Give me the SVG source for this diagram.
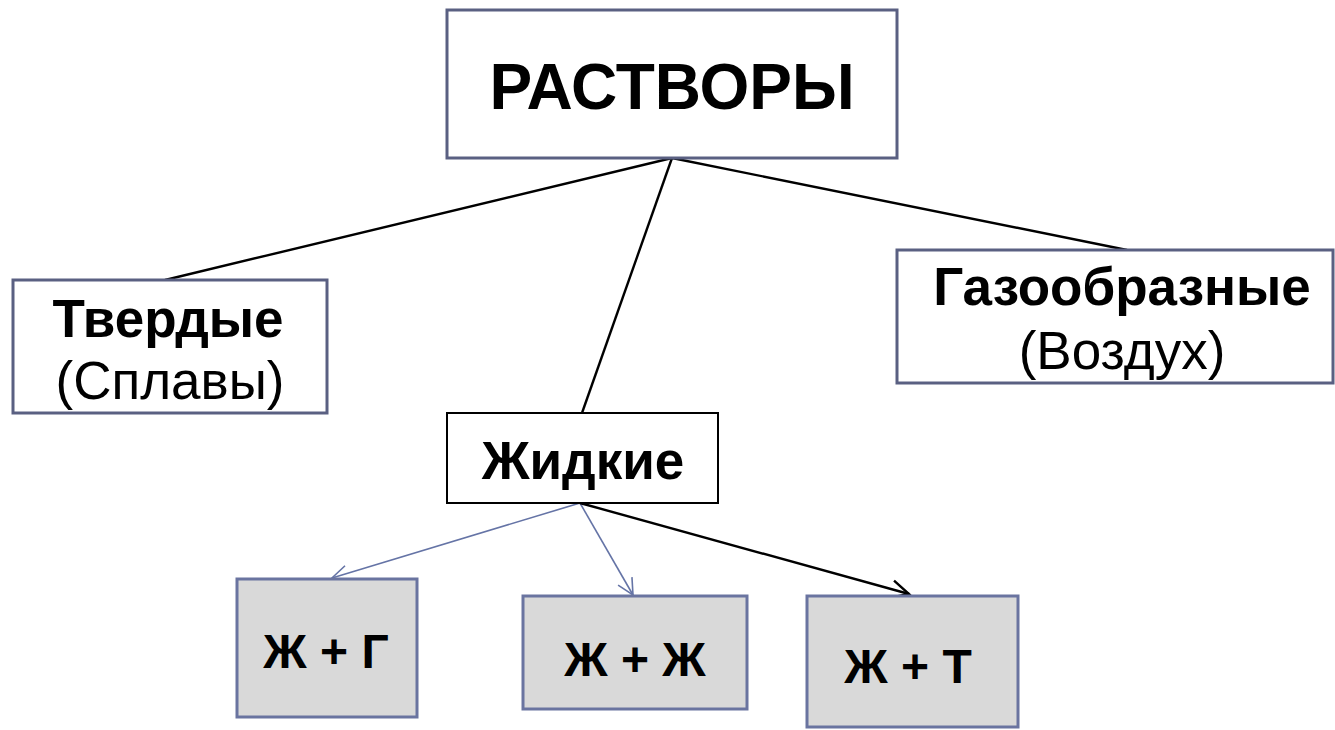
<svg xmlns="http://www.w3.org/2000/svg" width="1335" height="730" viewBox="0 0 1335 730">
<defs>
<marker id="arrB" viewBox="0 0 20 20" refX="18" refY="10" markerWidth="20" markerHeight="20" markerUnits="userSpaceOnUse" orient="auto">
<path d="M2,2 L18,10 L2,18" fill="none" stroke="#6574a6" stroke-width="1.6"/>
</marker>
<marker id="arrK" viewBox="0 0 24 24" refX="21" refY="12" markerWidth="24" markerHeight="24" markerUnits="userSpaceOnUse" orient="auto">
<path d="M3,3 L21,12 L3,21" fill="none" stroke="#000" stroke-width="2.4"/>
</marker>
</defs>
<style>
.box{fill:#fff;stroke:#5a6082;stroke-width:3}
.kbox{fill:#fff;stroke:#000;stroke-width:2}
.gbox{fill:#d9d9d9;stroke:#6a74a0;stroke-width:3}
.t{font-family:"Liberation Sans",Arial,sans-serif;fill:#000;text-anchor:middle}
.b{font-weight:bold}
.line{stroke:#000;stroke-width:2.4;fill:none}
.bl{stroke:#6574a6;stroke-width:1.6;fill:none}
</style>
<rect width="1335" height="730" fill="#fff"/>
<g id="connectors">
<line class="line" x1="672" y1="158" x2="165" y2="280"/>
<line class="line" x1="672" y1="158" x2="582" y2="413"/>
<line class="line" x1="672" y1="158" x2="1127" y2="250"/>
<line class="bl" x1="580" y1="503" x2="332" y2="578" marker-end="url(#arrB)"/>
<line class="bl" x1="580" y1="503" x2="633" y2="595" marker-end="url(#arrB)"/>
<line class="line" x1="580" y1="503" x2="909" y2="594" marker-end="url(#arrK)"/>
</g>
<g id="rastvory">
<rect class="box" x="447" y="10" width="450" height="148"/>
<text class="t b" x="672" y="109" font-size="64">РАСТВОРЫ</text>
</g>
<g id="tverdye">
<rect class="box" x="13" y="280" width="314" height="133"/>
<text class="t b" x="168" y="337" font-size="53">Твердые</text>
<text class="t" x="170" y="399" font-size="53">(Сплавы)</text>
</g>
<g id="gazoobraznye">
<rect class="box" x="897" y="250" width="436" height="133"/>
<text class="t b" x="1122" y="305" font-size="53">Газообразные</text>
<text class="t" x="1122" y="369" font-size="53">(Воздух)</text>
</g>
<g id="zhidkie">
<rect class="kbox" x="447" y="413" width="271" height="90"/>
<text class="t b" x="583" y="479" font-size="53">Жидкие</text>
</g>
<g id="zh-g">
<rect class="gbox" x="237" y="579" width="180" height="138"/>
<text class="t b" x="326" y="668" font-size="48">Ж + Г</text>
</g>
<g id="zh-zh">
<rect class="gbox" x="523" y="596" width="224" height="113"/>
<text class="t b" x="635" y="676" font-size="48">Ж + Ж</text>
</g>
<g id="zh-t">
<rect class="gbox" x="807" y="596" width="211" height="131"/>
<text class="t b" x="908" y="683" font-size="48">Ж + Т</text>
</g>
</svg>
